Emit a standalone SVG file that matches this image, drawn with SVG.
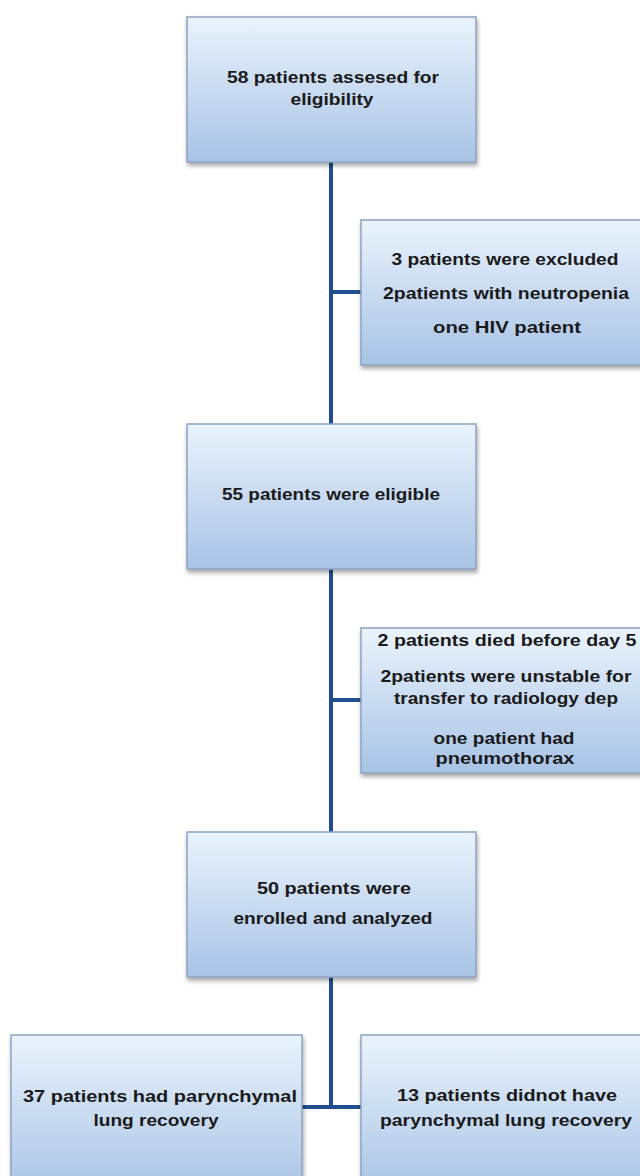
<svg xmlns="http://www.w3.org/2000/svg" width="640" height="1176" viewBox="0 0 640 1176">
<defs>
<linearGradient id="g" x1="0" y1="0" x2="0" y2="1">
<stop offset="0" stop-color="#eaf3fc"/>
<stop offset="1" stop-color="#a8c3e6"/>
</linearGradient>
<filter id="sh" x="-5%" y="-5%" width="115%" height="120%">
<feDropShadow dx="1" dy="3" stdDeviation="2" flood-color="#000" flood-opacity="0.35"/>
</filter>
<style>
.box{fill:url(#g);stroke:#8da3c2;stroke-width:1.5;filter:url(#sh)}
.t{font-family:"Liberation Sans",Arial,sans-serif;font-weight:bold;font-size:17px;fill:#1a1a1a;text-anchor:middle}
.c{fill:none;stroke:#1f4f8f;stroke-width:4}
</style>
</defs>
<rect width="640" height="1176" fill="#ffffff"/>
<g id="connectors">
<path class="c" d="M331 162 V424 M331 292 H361"/>
<path class="c" d="M331 569 V832 M331 700 H361"/>
<path class="c" d="M331 977 V1107 M302 1107 H361"/>
</g>
<g id="n1">
<rect class="box" x="187" y="17" width="289" height="145"/>
<text class="t" x="333" y="83" textLength="212" lengthAdjust="spacingAndGlyphs">58 patients assesed for</text>
<text class="t" x="332" y="105" textLength="83" lengthAdjust="spacingAndGlyphs">eligibility</text>
</g>
<g id="n2">
<rect class="box" x="361" y="220" width="290" height="145"/>
<text class="t" x="505" y="265" textLength="227" lengthAdjust="spacingAndGlyphs">3 patients were excluded</text>
<text class="t" x="506" y="299" textLength="246" lengthAdjust="spacingAndGlyphs">2patients with  neutropenia</text>
<text class="t" x="507" y="333" textLength="148" lengthAdjust="spacingAndGlyphs">one HIV patient</text>
</g>
<g id="n3">
<rect class="box" x="187" y="424" width="289" height="145"/>
<text class="t" x="331" y="500" textLength="218" lengthAdjust="spacingAndGlyphs">55 patients were eligible</text>
</g>
<g id="n4">
<rect class="box" x="361" y="628" width="290" height="145"/>
<text class="t" x="507" y="646" textLength="259" lengthAdjust="spacingAndGlyphs">2 patients died  before day 5</text>
<text class="t" x="506" y="682" textLength="251" lengthAdjust="spacingAndGlyphs">2patients were unstable for</text>
<text class="t" x="506" y="704" textLength="224" lengthAdjust="spacingAndGlyphs">transfer to radiology dep</text>
<text class="t" x="504" y="744" textLength="141" lengthAdjust="spacingAndGlyphs">one patient had</text>
<text class="t" x="505" y="764" textLength="139" lengthAdjust="spacingAndGlyphs">pneumothorax</text>
</g>
<g id="n5">
<rect class="box" x="187" y="832" width="289" height="145"/>
<text class="t" x="334" y="894" textLength="154" lengthAdjust="spacingAndGlyphs">50 patients were</text>
<text class="t" x="333" y="924" textLength="199" lengthAdjust="spacingAndGlyphs">enrolled  and analyzed</text>
</g>
<g id="n6">
<rect class="box" x="11" y="1035" width="291" height="160"/>
<text class="t" x="160" y="1102" textLength="274" lengthAdjust="spacingAndGlyphs">37 patients had parynchymal</text>
<text class="t" x="156" y="1126" textLength="125" lengthAdjust="spacingAndGlyphs">lung recovery</text>
</g>
<g id="n7">
<rect class="box" x="361" y="1035" width="290" height="160"/>
<text class="t" x="507" y="1101" textLength="220" lengthAdjust="spacingAndGlyphs">13 patients didnot have</text>
<text class="t" x="506" y="1126" textLength="252" lengthAdjust="spacingAndGlyphs">parynchymal lung recovery</text>
</g>
</svg>
